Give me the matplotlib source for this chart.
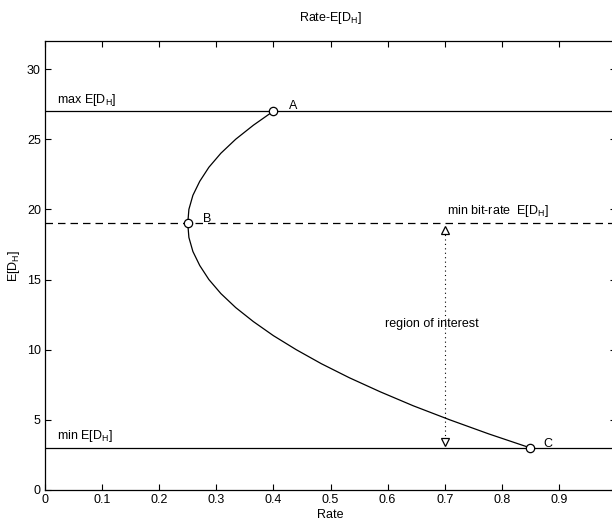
import matplotlib
matplotlib.use("Agg")
import matplotlib.pyplot as plt

plt.rcParams['font.family'] = ['Liberation Sans', 'DejaVu Sans']
plt.rcParams['mathtext.default'] = 'regular'

# Curve (Rate vs E[D_H])
curve_y = [27, 26, 25, 24, 23, 22, 21, 20, 19, 18, 17, 16, 15, 14, 13,
           12, 11, 10, 9, 8, 7, 6, 5, 4, 3]
curve_x = [0.400, 0.365, 0.334, 0.308, 0.287, 0.271, 0.259, 0.252, 0.250,
           0.252, 0.259, 0.271, 0.287, 0.308, 0.334, 0.365, 0.400, 0.440,
           0.484, 0.533, 0.587, 0.645, 0.709, 0.777, 0.850]

max_level = 27
min_level = 3
minrate_level = 19

point_names = ['A', 'B', 'C']
point_x = [0.40, 0.25, 0.85]
point_y = [27, 19, 3]

roi_x = 0.70
roi_top = 18.55
roi_bottom = 3.4

xticks = [0, 0.1, 0.2, 0.3, 0.4, 0.5, 0.6, 0.7, 0.8, 0.9, 1]
xticklabels = ['0', '0.1', '0.2', '0.3', '0.4', '0.5', '0.6', '0.7', '0.8', '0.9', '']
yticks = [0, 5, 10, 15, 20, 25, 30]

fig = plt.figure(figsize=(6.12, 5.2), dpi=100)
ax = fig.add_axes([45/612, 30/520, 571/612, 449/520])

lw = 0.9
ax.axhline(max_level, color='black', lw=lw)
ax.axhline(min_level, color='black', lw=lw)
ax.axhline(minrate_level, color='black', lw=lw, ls=(0, (6, 4)))
ax.plot(curve_x, curve_y, color='black', lw=lw)
ax.plot(point_x, point_y, ls='none', marker='o', mfc='white', mec='black',
        ms=6, mew=0.9)
ax.plot([roi_x, roi_x], [roi_top, roi_bottom], color='black', lw=0.8,
        ls=(0, (1, 3)))
ax.plot([roi_x], [roi_top], ls='none', marker='^', mfc='white', mec='black',
        ms=6, mew=0.9)
ax.plot([roi_x], [roi_bottom], ls='none', marker='v', mfc='white', mec='black',
        ms=6, mew=0.9)

fs = 9
label_offsets = [(0.027, 0.15), (0.027, 0.1), (0.022, 0.1)]
for name, x, y, (dx, dy) in zip(point_names, point_x, point_y, label_offsets):
    ax.text(x + dx, y + dy, name, fontsize=fs, va='baseline', ha='left')

ax.text(0.021, 27.6, r'max E[D$_H$]', fontsize=fs, va='baseline', ha='left')
ax.text(0.021, 3.6, r'min E[D$_H$]', fontsize=fs, va='baseline', ha='left')
ax.text(0.704, 19.7, r'min bit-rate  E[D$_H$]', fontsize=fs, va='baseline', ha='left')
ax.text(0.595, 11.6, 'region of interest', fontsize=fs, va='baseline', ha='left')

ax.set_xlim(0, 1)
ax.set_ylim(0, 32)
ax.set_xticks(xticks)
ax.set_xticklabels(xticklabels)
ax.set_yticks(yticks)
ax.tick_params(direction='in', length=4, width=0.8, top=True, right=True,
               labelsize=fs, pad=3)
for s in ax.spines.values():
    s.set_linewidth(0.9)

ax.set_xlabel('Rate', fontsize=fs, va='center')
ax.xaxis.set_label_coords(0.5, -0.0557)
ax.set_ylabel(r'E[D$_H$]', fontsize=fs, va='center')
ax.yaxis.set_label_coords(-0.054, 0.5)

fig.text(330/612, 1 - 18/520, r'Rate-E[D$_H$]', fontsize=fs, ha='center', va='center')

fig.savefig('out.png', dpi=100)
